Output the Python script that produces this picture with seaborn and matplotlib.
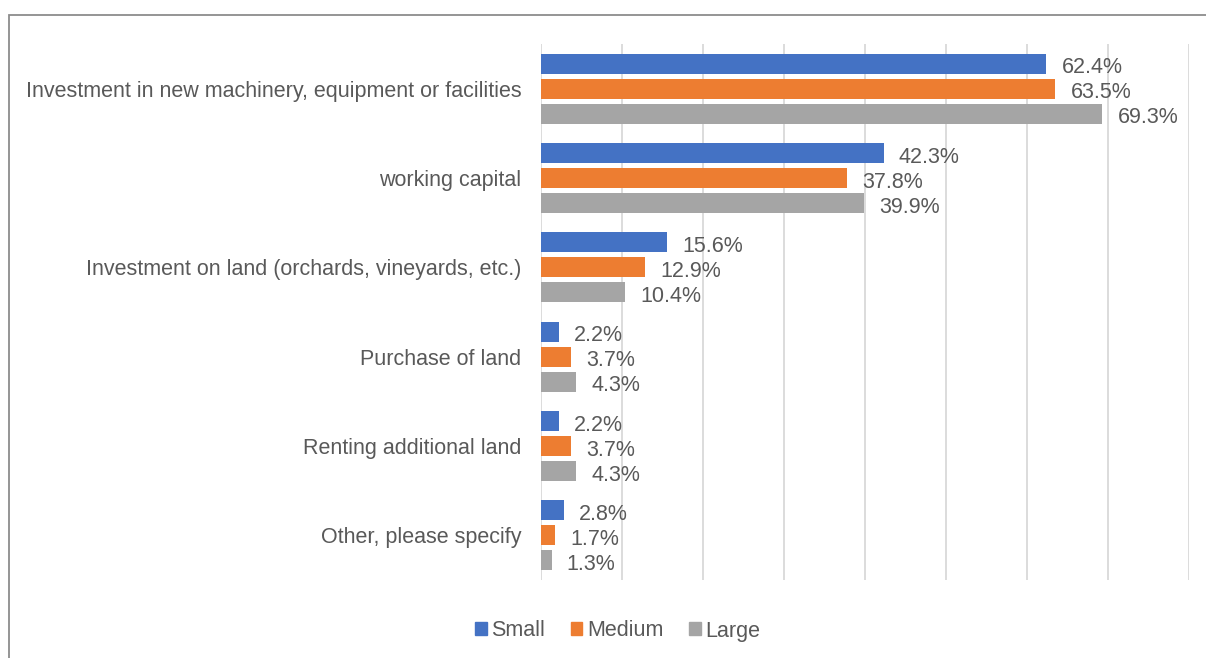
import pandas as pd
import matplotlib.pyplot as plt
import matplotlib.patches as mpatches
import seaborn as sns

categories = [
    "Investment in new machinery, equipment or facilities",
    "working capital",
    "Investment on land (orchards, vineyards, etc.)",
    "Purchase of land",
    "Renting additional land",
    "Other, please specify",
]
sizes = ["Small", "Medium", "Large"]
small = [62.4, 42.3, 15.6, 2.2, 2.2, 2.8]
medium = [63.5, 37.8, 12.9, 3.7, 3.7, 1.7]
large = [69.3, 39.9, 10.4, 4.3, 4.3, 1.3]
colors = ["#4472C4", "#ED7D31", "#A5A5A5"]
text_color = "#595959"

sns.set_theme(style="white")
plt.rcParams["font.family"] = ["Liberation Sans", "DejaVu Sans"]

rows = []
for name, vals in zip(sizes, [small, medium, large]):
    for cat, v in zip(categories, vals):
        rows.append({"category": cat, "size": name, "value": v})
df = pd.DataFrame(rows)

fig = plt.figure(figsize=(12.06, 6.58), dpi=100)
ax = fig.add_axes([541 / 1206, 1 - 580 / 658, (1189 - 541) / 1206, (580 - 44) / 658])

sns.barplot(data=df, y="category", x="value", hue="size", order=categories,
            hue_order=sizes, palette=colors, saturation=1, orient="h",
            width=0.84, gap=0.2, linewidth=0, ax=ax, legend=False)

for cont in ax.containers:
    labels = ax.bar_label(cont, fmt="%.1f%%", padding=11, fontsize=15.5, color=text_color)
    # nudge the labels down a little, like the reference
    for lab in labels:
        lab.xyann = (11, -3)

ax.set_xlim(0, 80)
ax.set_xticks(range(0, 81, 10))
ax.set_xticklabels([])
ax.grid(axis="x", color="#D9D9D9", linewidth=1.3)
ax.set_axisbelow(True)
for s in ax.spines.values():
    s.set_visible(False)
ax.set_xlabel("")
ax.set_ylabel("")
ax.tick_params(axis="y", length=0, pad=14, labelsize=15.5, labelcolor=text_color)
ax.tick_params(axis="x", length=0)

handles = [mpatches.Patch(color=c, label=s) for c, s in zip(colors, sizes)]
leg = fig.legend(handles=handles, loc="center", bbox_to_anchor=(0.512, 1 - 631 / 658),
                 ncol=3, frameon=False, fontsize=15.5, handlelength=0.55,
                 handleheight=0.55, handletextpad=0.2, columnspacing=1.2)
for t in leg.get_texts():
    t.set_color(text_color)

# outer chart border (only top and left edges visible in the crop)
fig.add_artist(mpatches.Rectangle((9 / 1206, -0.2), 1.2, 1.2 - 15 / 658,
                                  transform=fig.transFigure, fill=False,
                                  edgecolor="#8C8C8C", linewidth=1.3))

fig.savefig("out.png", dpi=100)
